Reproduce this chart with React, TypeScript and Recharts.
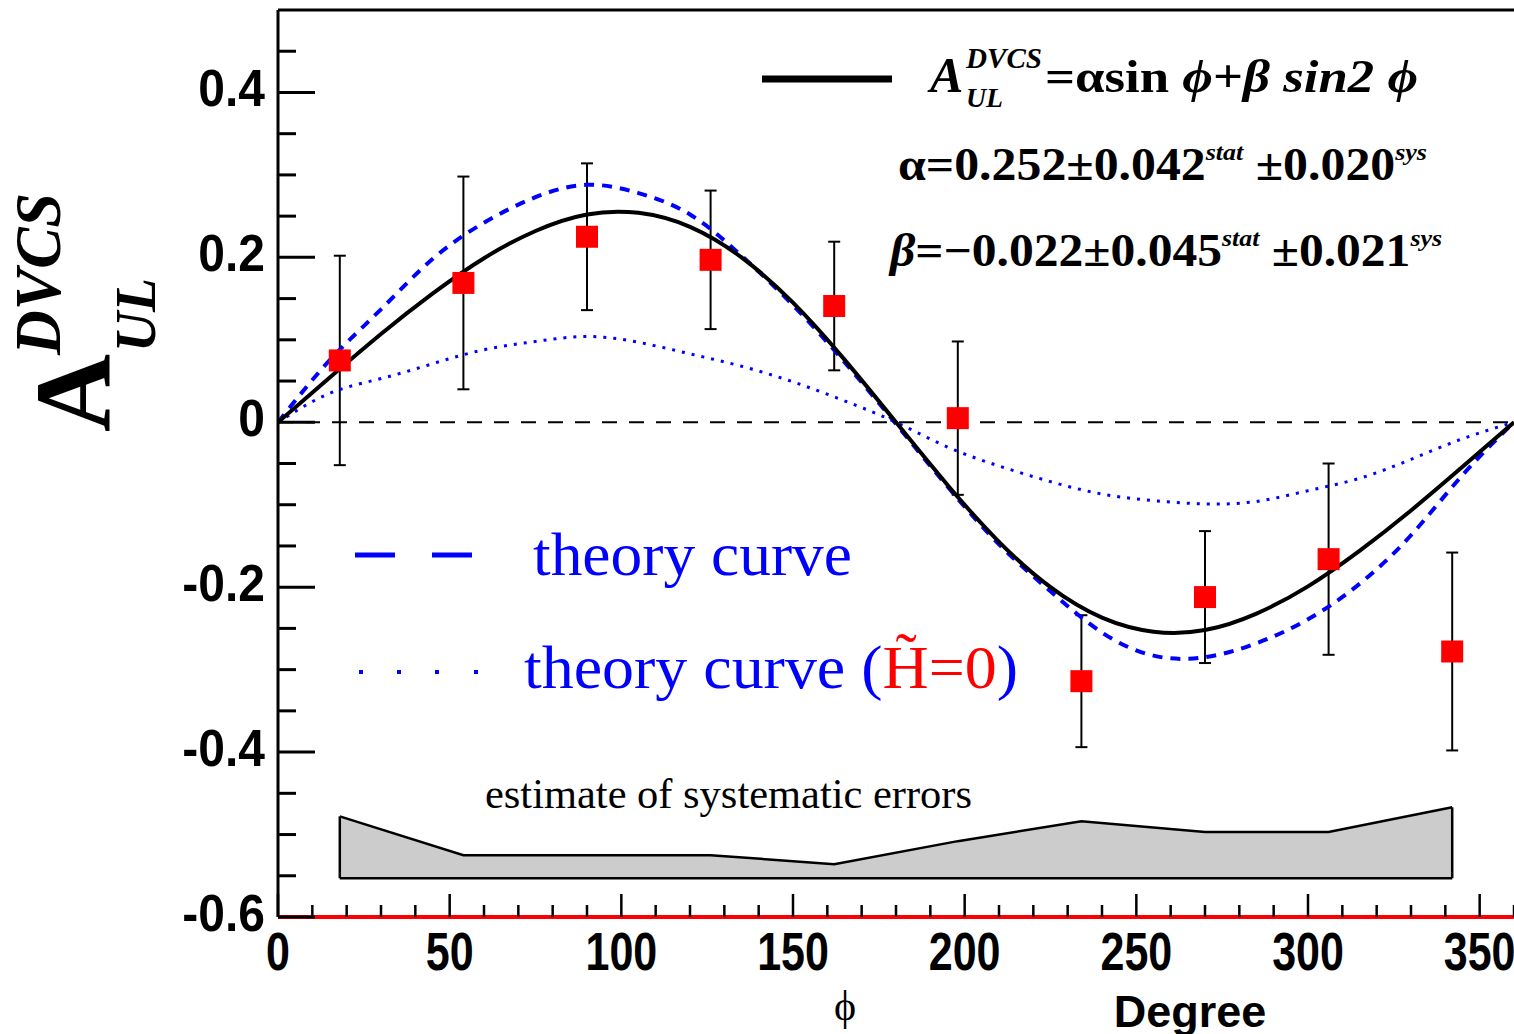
import { ComposedChart, Line, Scatter, Area, XAxis, YAxis, ReferenceLine, ErrorBar } from "recharts"

// curves sampled every 15 degrees
const phiGrid = [0, 15, 30, 45, 60, 75, 90, 105, 120, 135, 150, 165, 180, 195, 210, 225, 240, 255, 270, 285, 300, 315, 330, 345, 360]
const fitCurve = [0, 0.054, 0.107, 0.156, 0.199, 0.232, 0.252, 0.254, 0.237, 0.2, 0.145, 0.076, 0, -0.076, -0.145, -0.2, -0.237, -0.254, -0.252, -0.232, -0.199, -0.156, -0.107, -0.054, 0]
const theoryCurve = [0, 0.075, 0.137, 0.198, 0.242, 0.273, 0.288, 0.278, 0.252, 0.202, 0.142, 0.073, -0.002, -0.078, -0.148, -0.205, -0.255, -0.283, -0.285, -0.268, -0.239, -0.196, -0.137, -0.064, 0]
const theoryNoHt = [0, 0.035, 0.053, 0.071, 0.088, 0.098, 0.104, 0.097, 0.083, 0.068, 0.049, 0.026, 0, -0.03, -0.053, -0.072, -0.087, -0.095, -0.099, -0.096, -0.083, -0.068, -0.045, -0.02, 0]

// measured asymmetry per phi bin
const binPhi = [18, 54, 90, 126, 162, 198, 234, 270, 306, 342]
const asym = [0.075, 0.169, 0.225, 0.197, 0.141, 0.005, -0.314, -0.212, -0.166, -0.278]
const statErr = [0.127, 0.129, 0.089, 0.084, 0.078, 0.093, 0.08, 0.08, 0.116, 0.12]

// systematic error band
const sysBase = -0.553
const sysTop = [-0.478, -0.525, -0.525, -0.525, -0.536, -0.508, -0.484, -0.497, -0.497, -0.467]

const xTicks = [0, 10, 20, 30, 40, 50, 60, 70, 80, 90, 100, 110, 120, 130, 140, 150, 160, 170, 180, 190, 200, 210, 220, 230, 240, 250, 260, 270, 280, 290, 300, 310, 320, 330, 340, 350, 360]
const xLabels = [0, 50, 100, 150, 200, 250, 300, 350]
const yTicks = [-0.6, -0.55, -0.5, -0.45, -0.4, -0.35, -0.3, -0.25, -0.2, -0.15, -0.1, -0.05, 0, 0.05, 0.1, 0.15, 0.2, 0.25, 0.3, 0.35, 0.4, 0.45]
const yLabels = [-0.6, -0.4, -0.2, 0, 0.2, 0.4]

const curveRows = phiGrid.map((phi, i) => ({ phi, fit: fitCurve[i], theory: theoryCurve[i], noHt: theoryNoHt[i] }))
const pointRows = binPhi.map((phi, i) => ({ phi, a: asym[i], err: statErr[i] }))
const bandRows = binPhi.map((phi, i) => ({ phi, band: [sysBase, sysTop[i]] }))

const BLUE = "#0000ff"
const RED = "#ff0000"
const SANS = "'Liberation Sans', Arial, sans-serif"
const SERIF = "'Liberation Serif', 'Times New Roman', serif"

function YTick(props: any) {
    const { x, y, payload } = props
    const v = payload.value
    const major = yLabels.includes(v)
    return (
        <g>
            <line x1={x} x2={x + (major ? 37 : 18)} y1={y} y2={y} stroke="#000" strokeWidth={3} />
            {major && (
                <text transform={`translate(${x - 13},${y + 14}) scale(1,1.08)`} textAnchor="end"
                    fontFamily={SANS} fontWeight="bold" fontSize={48} fill="#000">
                    {String(v)}
                </text>
            )}
        </g>
    )
}

function XTick(props: any) {
    const { x, y, payload } = props
    const v = payload.value
    const major = xLabels.includes(v)
    return (
        <g>
            <line x1={x} x2={x} y1={y} y2={y - (major ? 23 : 12)} stroke="#000" strokeWidth={2.5} />
            {major && (
                <text transform={`translate(${x},${y + 53}) scale(1,1.23)`} textAnchor="middle"
                    fontFamily={SANS} fontWeight="bold" fontSize={43} fill="#000">
                    {String(v)}
                </text>
            )}
        </g>
    )
}

function RedSquare(props: any) {
    const { cx, cy } = props
    return <rect x={cx - 11} y={cy - 11} width={22} height={22} fill={RED} />
}

export default function App() {

    return (

        <div style={{ position: "absolute", left: 0, top: 0, width: 1514, height: 1034, background: "#fff" }}>

            <ComposedChart width={1514} height={1034} margin={{ top: 10, right: 0, bottom: 0, left: 0 }}>

                <XAxis type="number" dataKey="phi" domain={[0, 360]} ticks={xTicks} interval={0}
                    allowDataOverflow scale="linear" height={117} tickSize={0} tickMargin={0}
                    tickLine={false} tick={<XTick />} axisLine={{ stroke: RED, strokeWidth: 4 }} />

                <YAxis type="number" domain={[-0.6, 0.5]} ticks={yTicks} interval={0}
                    allowDataOverflow width={278} tickSize={0} tickMargin={0}
                    tickLine={false} tick={<YTick />} axisLine={{ stroke: "#000", strokeWidth: 3 }} />

                <ReferenceLine y={0.5} stroke="#000" strokeWidth={3} />

                <Area data={bandRows} dataKey="band" type="linear" fill="#cccccc" fillOpacity={1}
                    stroke="#000" strokeWidth={2.5} isAnimationActive={false} />
                <ReferenceLine segment={[{ x: binPhi[0], y: sysBase }, { x: binPhi[0], y: sysTop[0] }]} stroke="#000" strokeWidth={2.5} />
                <ReferenceLine segment={[{ x: binPhi[9], y: sysBase }, { x: binPhi[9], y: sysTop[9] }]} stroke="#000" strokeWidth={2.5} />

                <ReferenceLine y={0} stroke="#000" strokeWidth={2} strokeDasharray="15 12" />

                <Scatter data={pointRows} dataKey="a" shape={<RedSquare />} isAnimationActive={false}>
                    <ErrorBar dataKey="err" direction="y" width={6} stroke="#000" strokeWidth={2} isAnimationActive={false} />
                </Scatter>

                <Line data={curveRows} dataKey="noHt" type="natural" stroke={BLUE} strokeWidth={3}
                    strokeDasharray="3 7" dot={false} activeDot={false} isAnimationActive={false} />
                <Line data={curveRows} dataKey="theory" type="natural" stroke={BLUE} strokeWidth={4}
                    strokeDasharray="10 8" dot={false} activeDot={false} isAnimationActive={false} />
                <Line data={curveRows} dataKey="fit" type="natural" stroke="#000" strokeWidth={4}
                    dot={false} activeDot={false} isAnimationActive={false} />

            </ComposedChart>

            <svg width={1514} height={1034} style={{ position: "absolute", left: 0, top: 0, pointerEvents: "none" }}>

                {/* y axis title */}
                <text transform="translate(110,432) rotate(-90)" fontFamily={SERIF} fontWeight="bold" fontSize={108} fill="#000">A</text>
                <text transform="translate(60,355) rotate(-90)" fontFamily={SERIF} fontWeight="bold" fontStyle="italic" fontSize={66}
                    fill="#000" textLength={162} lengthAdjust="spacingAndGlyphs">DVCS</text>
                <text transform="translate(155,352) rotate(-90)" fontFamily={SERIF} fontWeight="bold" fontStyle="italic" fontSize={58}
                    fill="#000" textLength={74} lengthAdjust="spacingAndGlyphs">UL</text>

                {/* fit legend */}
                <line x1={762} x2={892} y1={79} y2={79} stroke="#000" strokeWidth={7} />
                <text x={930} y={92} fontFamily={SERIF} fontWeight="bold" fontStyle="italic" fontSize={50} fill="#000">A</text>
                <text x={966} y={68} fontFamily={SERIF} fontWeight="bold" fontStyle="italic" fontSize={30} fill="#000"
                    textLength={76} lengthAdjust="spacingAndGlyphs">DVCS</text>
                <text x={966} y={107} fontFamily={SERIF} fontWeight="bold" fontStyle="italic" fontSize={28} fill="#000"
                    textLength={37} lengthAdjust="spacingAndGlyphs">UL</text>
                <text x={1045} y={92} fontFamily={SERIF} fontWeight="bold" fontSize={46} fill="#000"
                    textLength={373} lengthAdjust="spacingAndGlyphs">
                    =αsin <tspan fontStyle="italic">ϕ</tspan>+<tspan fontStyle="italic">β sin2 ϕ</tspan>
                </text>

                <text x={898} y={180} fontFamily={SERIF} fontWeight="bold" fontSize={46} fill="#000"
                    textLength={529} lengthAdjust="spacingAndGlyphs">
                    α=0.252±0.042<tspan dy={-20} fontSize={24} fontStyle="italic">stat</tspan>
                    <tspan dy={20}> ±0.020</tspan><tspan dy={-20} fontSize={24} fontStyle="italic">sys</tspan>
                </text>
                <text x={890} y={266} fontFamily={SERIF} fontWeight="bold" fontSize={46} fill="#000"
                    textLength={552} lengthAdjust="spacingAndGlyphs">
                    <tspan fontStyle="italic">β</tspan>=−0.022±0.045<tspan dy={-20} fontSize={24} fontStyle="italic">stat</tspan>
                    <tspan dy={20}> ±0.021</tspan><tspan dy={-20} fontSize={24} fontStyle="italic">sys</tspan>
                </text>

                {/* theory legend */}
                <line x1={355} x2={395} y1={555} y2={555} stroke={BLUE} strokeWidth={5} />
                <line x1={432} x2={472} y1={555} y2={555} stroke={BLUE} strokeWidth={5} />
                <text x={533} y={575} fontFamily={SERIF} fontSize={62} fill={BLUE} textLength={319} lengthAdjust="spacingAndGlyphs">theory curve</text>

                {[361, 399, 437, 476].map(cx => (
                    <rect key={cx} x={cx - 2} y={670} width={4} height={4} fill={BLUE} />
                ))}
                <text x={524} y={688} fontFamily={SERIF} fontSize={62} fill={BLUE} textLength={494} lengthAdjust="spacingAndGlyphs">
                    theory curve (<tspan fill={RED}>H̃=0</tspan>)
                </text>

                <text x={485} y={808} fontFamily={SERIF} fontSize={42} fill="#000" textLength={487} lengthAdjust="spacingAndGlyphs">
                    estimate of systematic errors
                </text>

                {/* x axis titles */}
                <text x={845} y={1020} textAnchor="middle" fontFamily={SERIF} fontSize={42} fill="#000">ϕ</text>
                <text x={1190} y={1027} textAnchor="middle" fontFamily={SANS} fontWeight="bold" fontSize={45} fill="#000">Degree</text>

            </svg>

        </div>

    )

}
